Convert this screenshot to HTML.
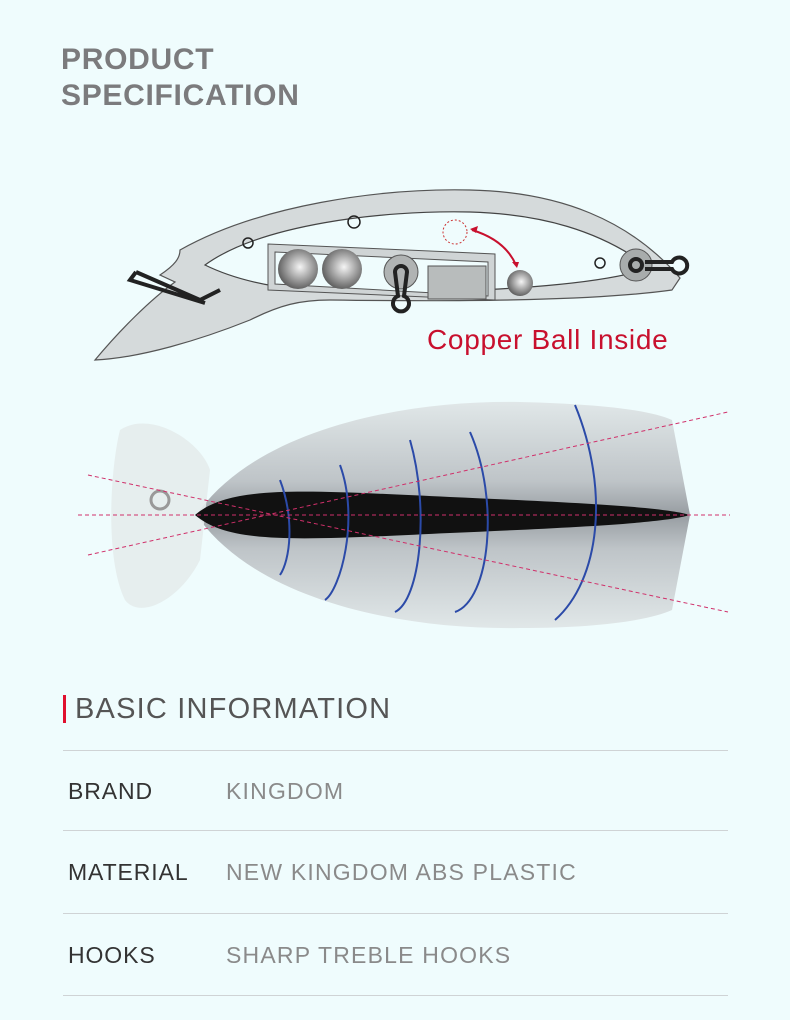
<!DOCTYPE html>
<html><head><meta charset="utf-8"><style>
body{margin:0;width:790px;height:1020px;background:#effcfd;font-family:"Liberation Sans",sans-serif;position:relative;overflow:hidden}
.t{position:absolute;white-space:nowrap}
.h{left:61px;font-size:30px;font-weight:bold;color:#7b7b7d;letter-spacing:0.7px}
.line{position:absolute;left:63px;width:665px;height:1px;background:#cfd3d5}
.k{left:68px;font-size:23px;color:#333;letter-spacing:0.9px}
.v{left:226px;font-size:23px;color:#8a8a8a;letter-spacing:1.2px}
</style></head><body>
<div class="t h" style="top:43px">PRODUCT</div>
<div class="t h" style="top:79px">SPECIFICATION</div>
<svg width="790" height="680" style="position:absolute;left:0;top:0">
<path d="M180,250 C260,205 380,188 470,190 C560,192 630,220 680,278 L672,290 C600,300 480,302 330,300 C300,300 280,305 250,320 C200,340 140,358 95,360 C120,330 150,300 175,282 L160,275 C175,265 180,258 180,250Z" fill="#d5dadb" stroke="#555" stroke-width="1.2"/>
<path d="M205,265 C260,225 380,210 470,212 C540,214 600,230 650,268 C600,285 500,290 420,292 C330,294 260,292 205,265Z" fill="#effcfd" stroke="#444" stroke-width="1.2"/>
<path d="M268,244 L430,251 L495,254 L495,300 L268,290Z" fill="#cfd4d5" stroke="#555" stroke-width="1"/>
<path d="M275,252 L488,262 L488,296 L275,284Z" fill="#effcfd" stroke="#555"/>
<defs><radialGradient id="b" cx="0.55" cy="0.45" r="0.6"><stop offset="0" stop-color="#f5f5f5"/><stop offset="1" stop-color="#555"/></radialGradient>
<linearGradient id="f" x1="0" y1="0" x2="0" y2="1"><stop offset="0" stop-color="#dfe5e6"/><stop offset="0.35" stop-color="#b9bec2"/><stop offset="0.5" stop-color="#8d9297"/><stop offset="0.65" stop-color="#b9bec2"/><stop offset="1" stop-color="#dfe5e6"/></linearGradient></defs>
<circle cx="298" cy="269" r="20" fill="url(#b)"/>
<circle cx="342" cy="269" r="20" fill="url(#b)"/>
<rect x="428" y="266" width="58" height="33" fill="#b8bcbc" stroke="#555"/>
<circle cx="401" cy="272" r="17" fill="#b0b3b3" stroke="#555"/>
<path d="M395,272 a6,6 0 1,1 12,0 L404,296 a8,8 0 1,1 -6,0Z" fill="none" stroke="#222" stroke-width="4"/>
<circle cx="520" cy="283" r="13" fill="url(#b)"/>
<circle cx="455" cy="232" r="12" fill="none" stroke="#c33" stroke-dasharray="2,2"/>
<path d="M472,230 Q505,240 516,265" fill="none" stroke="#c8102e" stroke-width="2"/>
<path d="M470,229 l8,-3 l-2,7Z M517,268 l-5,-6 l7,0Z" fill="#c8102e"/>
<circle cx="354" cy="222" r="6" fill="none" stroke="#222" stroke-width="1.5"/>
<circle cx="248" cy="243" r="5" fill="none" stroke="#222" stroke-width="1.5"/>
<circle cx="600" cy="263" r="5" fill="none" stroke="#222" stroke-width="1.5"/>
<circle cx="636" cy="265" r="16" fill="#a8acac" stroke="#555"/>
<path d="M630,265 a6,6 0 1,1 12,0 a6,6 0 1,1 -12,0 M645,262 L672,262 a8,8 0 1,1 0,7 L645,269" fill="none" stroke="#222" stroke-width="4"/>
<path d="M136,272 L200,300 L220,290 M136,272 L130,280 L205,303" fill="none" stroke="#222" stroke-width="4"/>
<path d="M200,510 C260,430 400,400 520,402 C600,404 650,410 672,420 L690,515 L672,610 C650,620 600,628 520,628 C400,630 260,600 200,520Z" fill="url(#f)" opacity="0.9"/>
<path d="M120,430 C150,410 200,440 210,470 L200,560 C180,600 140,620 125,600 C105,560 110,470 120,430Z" fill="#e4ecec" opacity="0.9"/>
<path d="M195,515 C230,485 300,490 450,497 C560,502 660,506 690,515 C660,524 560,528 450,533 C300,540 230,545 195,515Z" fill="#111"/>
<circle cx="160" cy="500" r="9" fill="none" stroke="#999" stroke-width="3"/>
<g stroke="#2b4aa8" stroke-width="2" fill="none">
<path d="M340,465 C360,520 340,590 325,600"/>
<path d="M410,440 C430,510 420,600 395,612"/>
<path d="M470,432 C500,500 490,600 455,612"/>
<path d="M575,405 C610,490 600,580 555,620"/>
<path d="M280,480 C295,520 290,560 280,575"/>
</g>
<g stroke="#d0306a" stroke-width="1" stroke-dasharray="4,3" fill="none">
<line x1="88" y1="475" x2="728" y2="612"/>
<line x1="88" y1="555" x2="728" y2="412"/>
<line x1="78" y1="515" x2="730" y2="515"/>
</g>
</svg>
<div class="t" style="left:427px;top:324px;font-size:28px;color:#c8102e;letter-spacing:0.7px">Copper Ball Inside</div>
<div style="position:absolute;left:63px;top:695px;width:3px;height:28px;background:#e0102e"></div>
<div class="t" style="left:75px;top:693px;font-size:29px;color:#555;letter-spacing:1.2px">BASIC INFORMATION</div>
<div class="line" style="top:750px"></div>
<div class="t k" style="top:778px">BRAND</div><div class="t v" style="top:778px">KINGDOM</div>
<div class="line" style="top:830px"></div>
<div class="t k" style="top:859px">MATERIAL</div><div class="t v" style="top:859px">NEW KINGDOM ABS PLASTIC</div>
<div class="line" style="top:913px"></div>
<div class="t k" style="top:942px">HOOKS</div><div class="t v" style="top:942px">SHARP TREBLE HOOKS</div>
<div class="line" style="top:995px"></div>
</body></html>
